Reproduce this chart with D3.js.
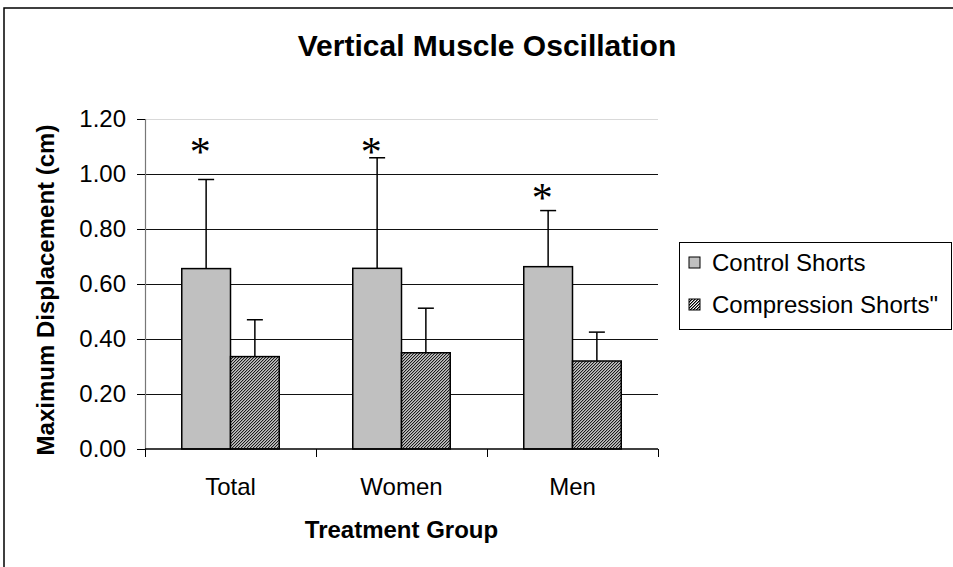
<!DOCTYPE html>
<html>
<head>
<meta charset="utf-8">
<script src="https://cdn.jsdelivr.net/npm/d3@7"></script>
<style>
  body { margin: 0; background: #fff; }
  text { font-family: "Liberation Sans", Arial, sans-serif; fill: #000; }
</style>
</head>
<body>
<div id="chart"></div>
<script>
// data
var groups = ["Total", "Women", "Men"];
var seriesNames = ["Control Shorts", "Compression Shorts\""];
var controlMeans = [0.656, 0.657, 0.663];
var controlErr = [0.324, 0.402, 0.204];
var compressionMeans = [0.336, 0.350, 0.320];
var compressionErr = [0.134, 0.162, 0.105];
var starLevels = [1.10, 1.10, 0.93];
var yTicks = [0, 0.2, 0.4, 0.6, 0.8, 1.0, 1.2];

var width = 953, height = 567;

// plot area
var plot = {left: 145, right: 658, top: 119, bottom: 449};

var svg = d3.select("#chart").append("svg")
    .attr("width", width)
    .attr("height", height);

// dense diagonal hatch for the compression bars (3px tile, "/" stripes)
var defs = svg.append("defs");
var pat = defs.append("pattern")
    .attr("id", "hatch")
    .attr("patternUnits", "userSpaceOnUse")
    .attr("width", 3)
    .attr("height", 3);
pat.append("rect").attr("width", 3).attr("height", 3).attr("fill", "#fff");
[[2, 0], [1, 1], [0, 2]].forEach(function(p) {
  pat.append("rect").attr("x", p[0]).attr("y", p[1])
      .attr("width", 1).attr("height", 1).attr("fill", "#000");
});
[[0, 0], [2, 1], [1, 2]].forEach(function(p) {
  pat.append("rect").attr("x", p[0]).attr("y", p[1])
      .attr("width", 1).attr("height", 1).attr("fill", "#7a7a7a");
});

// outer chart frame (runs off the right and bottom edges)
svg.append("rect")
    .attr("x", 4).attr("y", 8)
    .attr("width", 1000).attr("height", 600)
    .attr("fill", "none")
    .attr("stroke", "#000")
    .attr("stroke-width", 1.5);

// scales
var x0 = d3.scaleBand()
    .domain(groups)
    .range([plot.left, plot.right])
    .paddingInner(0.43)
    .paddingOuter(0.215);

var x1 = d3.scaleBand()
    .domain([0, 1])
    .range([0, x0.bandwidth()]);

var y = d3.scaleLinear()
    .domain([0, 1.2])
    .range([plot.bottom, plot.top]);

// gridlines
svg.append("g")
  .selectAll("line")
  .data(yTicks.filter(function(d) { return d > 0; }))
  .enter().append("line")
    .attr("x1", plot.left)
    .attr("x2", plot.right)
    .attr("y1", function(d) { return Math.round(y(d)) + 0.5; })
    .attr("y2", function(d) { return Math.round(y(d)) + 0.5; })
    .attr("stroke", function(d) { return d === 1.2 ? "#d9d9d9" : "#111"; })
    .attr("stroke-width", 1);

// Y axis
var yAxis = svg.append("g")
    .attr("transform", "translate(" + plot.left + ",0)")
    .call(d3.axisLeft(y)
        .tickValues(yTicks)
        .tickFormat(d3.format(".2f"))
        .tickSize(8)
        .tickPadding(11));
yAxis.select(".domain").attr("stroke", "#777").attr("stroke-width", 1.2);
yAxis.selectAll(".tick line").attr("stroke", "#000");
yAxis.selectAll("text")
    .style("font-family", "Liberation Sans, Arial, sans-serif")
    .style("font-size", "24px")
    .attr("fill", "#000");

// bar data
var rows = groups.map(function(g, i) {
  return {group: g, values: [
    {s: 0, v: controlMeans[i], e: controlErr[i]},
    {s: 1, v: compressionMeans[i], e: compressionErr[i]}
  ]};
});

var gGroups = svg.append("g")
  .selectAll("g")
  .data(rows)
  .enter().append("g")
    .attr("transform", function(d) { return "translate(" + x0(d.group) + ",0)"; });

// error bars (upper only)
gGroups.selectAll("g.err")
  .data(function(d) { return d.values; })
  .enter().append("g")
    .attr("class", "err")
    .each(function(d) {
      var cx = x1(d.s) + x1.bandwidth() / 2;
      var g = d3.select(this);
      g.append("line")
          .attr("x1", cx).attr("x2", cx)
          .attr("y1", y(d.v)).attr("y2", y(d.v + d.e))
          .attr("stroke", "#000").attr("stroke-width", 1.5);
      g.append("line")
          .attr("x1", cx - 8).attr("x2", cx + 8)
          .attr("y1", y(d.v + d.e)).attr("y2", y(d.v + d.e))
          .attr("stroke", "#000").attr("stroke-width", 1.5);
    });

// bars
gGroups.selectAll("rect")
  .data(function(d) { return d.values; })
  .enter().append("rect")
    .attr("x", function(d) { return x1(d.s); })
    .attr("y", function(d) { return y(d.v); })
    .attr("width", x1.bandwidth())
    .attr("height", function(d) { return y(0) - y(d.v); })
    .attr("fill", function(d) { return d.s === 0 ? "#c0c0c0" : "url(#hatch)"; })
    .attr("stroke", "#000")
    .attr("stroke-width", 1.5);

// asterisks over the control bars
svg.append("g")
  .selectAll("text")
  .data(groups)
  .enter().append("text")
    .attr("x", function(d) { return x0(d) + x1(0) + x1.bandwidth() / 2 - 6; })
    .attr("y", function(d, i) { return y(starLevels[i]) + 19; })
    .attr("text-anchor", "middle")
    .style("font-family", "Liberation Serif, Times New Roman, serif")
    .style("font-size", "42px")
    .text("*");

// X axis line with ticks at the group boundaries
svg.append("line")
    .attr("x1", plot.left).attr("x2", plot.right)
    .attr("y1", plot.bottom).attr("y2", plot.bottom)
    .attr("stroke", "#000").attr("stroke-width", 1.5);

var step = x0.step();
var bounds = groups.map(function(g) { return x0(g) - step * x0.paddingInner() / 2; });
bounds.push(plot.right);
svg.append("g")
  .selectAll("line")
  .data(bounds)
  .enter().append("line")
    .attr("x1", function(d) { return Math.round(d) + 0.5; })
    .attr("x2", function(d) { return Math.round(d) + 0.5; })
    .attr("y1", plot.bottom)
    .attr("y2", plot.bottom + 8)
    .attr("stroke", "#000");

// category labels
svg.append("g")
  .selectAll("text")
  .data(groups)
  .enter().append("text")
    .attr("x", function(d) { return x0(d) + x0.bandwidth() / 2; })
    .attr("y", 495)
    .attr("text-anchor", "middle")
    .style("font-size", "24px")
    .text(function(d) { return d; });

// titles
svg.append("text")
    .attr("x", 487)
    .attr("y", 56)
    .attr("text-anchor", "middle")
    .style("font-size", "30px")
    .style("font-weight", "bold")
    .text("Vertical Muscle Oscillation");

svg.append("text")
    .attr("x", (plot.left + plot.right) / 2)
    .attr("y", 538)
    .attr("text-anchor", "middle")
    .style("font-size", "24px")
    .style("font-weight", "bold")
    .text("Treatment Group");

svg.append("text")
    .attr("transform", "translate(54," + 290 + ") rotate(-90)")
    .attr("text-anchor", "middle")
    .style("font-size", "24px")
    .style("font-weight", "bold")
    .text("Maximum Displacement (cm)");

// legend
var legend = svg.append("g");
legend.append("rect")
    .attr("x", 679.5).attr("y", 242.5)
    .attr("width", 272).attr("height", 87)
    .attr("fill", "#fff")
    .attr("stroke", "#000")
    .attr("stroke-width", 1);

var items = legend.selectAll("g")
  .data(seriesNames)
  .enter().append("g")
    .attr("transform", function(d, i) { return "translate(689," + (257 + i * 42) + ")"; });
items.append("rect")
    .attr("width", 11).attr("height", 11)
    .attr("fill", function(d, i) { return i === 0 ? "#c0c0c0" : "url(#hatch)"; })
    .attr("stroke", "#000")
    .attr("stroke-width", 1);
items.append("text")
    .attr("x", 23)
    .attr("y", 14)
    .style("font-size", "24px")
    .text(function(d) { return d; });
</script>
</body>
</html>
